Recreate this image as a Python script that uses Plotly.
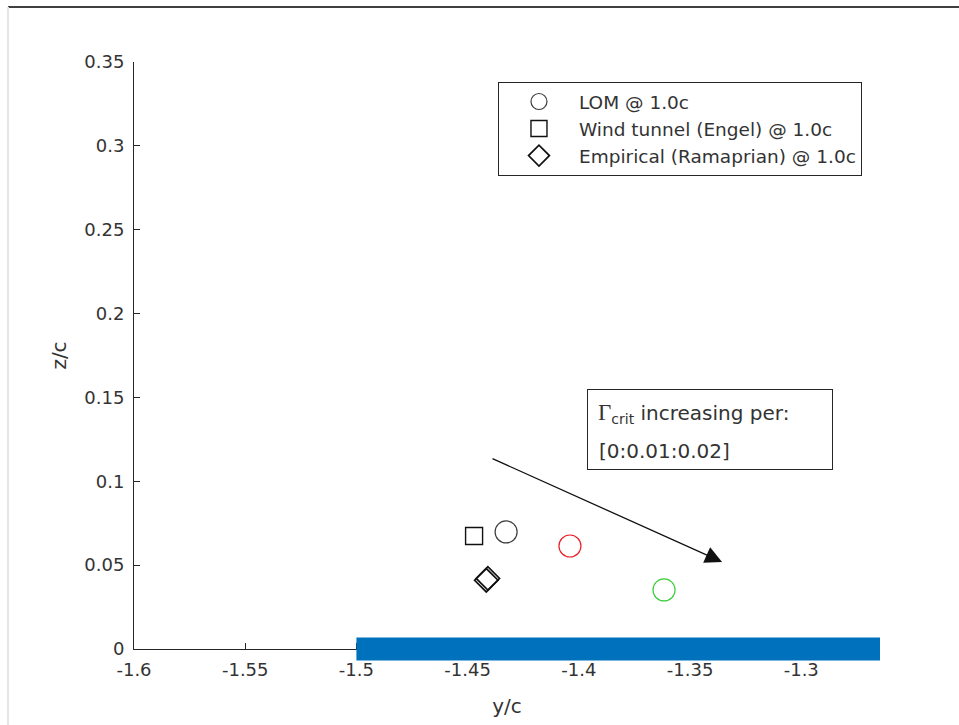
import plotly.graph_objects as go

# Vortex core positions (spanwise y/c, vertical z/c)
lom_y = [-1.4327]
lom_z = [0.0698]
engel_y = [-1.4471]
engel_z = [0.0674]
ramaprian_y = [-1.4416, -1.4409]
ramaprian_z = [0.0410, 0.0421]
lom_gcrit1_y = [-1.4040]
lom_gcrit1_z = [0.0614]
lom_gcrit2_y = [-1.3617]
lom_gcrit2_z = [0.0352]

# Wing trailing edge (spanwise extent at z = 0)
wing_y = [-1.5, -1.2646]

# Arrow showing the trend with increasing Gamma_crit
trend_y = [-1.4395, -1.3356]
trend_z = [0.1139, 0.0519]

x_ticks = [-1.6, -1.55, -1.5, -1.45, -1.4, -1.35, -1.3]
x_tick_text = ["-1.6", "-1.55", "-1.5", "-1.45", "-1.4", "-1.35", "-1.3"]
z_ticks = [0, 0.05, 0.1, 0.15, 0.2, 0.25, 0.3, 0.35]
z_tick_text = ["0", "0.05", "0.1", "0.15", "0.2", "0.25", "0.3", "0.35"]

FONT = "DejaVu Sans"
AX = "#262626"
TXT = "#333333"

fig = go.Figure()

fig.add_trace(go.Scatter(
    x=lom_y, y=lom_z, mode="markers", name="LOM @ 1.0c",
    marker=dict(symbol="circle-open", size=22, color="#3c3c3c",
                line=dict(width=1.2, color="#3c3c3c")),
))
fig.add_trace(go.Scatter(
    x=engel_y, y=engel_z, mode="markers", name="Wind tunnel (Engel) @ 1.0c",
    marker=dict(symbol="square-open", size=17, color="#111111",
                line=dict(width=1.4, color="#111111")),
))
fig.add_trace(go.Scatter(
    x=ramaprian_y, y=ramaprian_z, mode="markers",
    name="Empirical (Ramaprian) @ 1.0c",
    marker=dict(symbol="diamond-open", size=18, color="#111111",
                line=dict(width=1.7, color="#111111")),
))
fig.add_trace(go.Scatter(
    x=lom_gcrit1_y, y=lom_gcrit1_z, mode="markers", showlegend=False,
    marker=dict(symbol="circle-open", size=22, color="#e8202a",
                line=dict(width=1.2, color="#e8202a")),
))
fig.add_trace(go.Scatter(
    x=lom_gcrit2_y, y=lom_gcrit2_z, mode="markers", showlegend=False,
    marker=dict(symbol="circle-open", size=22, color="#3ccc3c",
                line=dict(width=1.2, color="#3ccc3c")),
))

# Thick wing bar drawn on top of the axis line
fig.add_shape(
    type="rect", xref="x", yref="paper",
    x0=wing_y[0], x1=wing_y[1],
    ysizemode="pixel", yanchor=0, y0=-11.5, y1=11.5,
    fillcolor="#0072BD", line=dict(width=0), layer="above",
)

# Figure frame edges
fig.add_shape(type="line", xref="paper", yref="paper",
              x0=-0.1689, x1=1.11, y0=1.0937, y1=1.0937,
              line=dict(color="#404040", width=2), layer="above")
fig.add_shape(type="line", xref="paper", yref="paper",
              x0=-0.1689, x1=-0.1689, y0=1.0937, y1=-0.14,
              line=dict(color="#e6e6e6", width=2), layer="above")

fig.add_annotation(
    x=trend_y[1], y=trend_z[1], ax=trend_y[0], ay=trend_z[0],
    xref="x", yref="y", axref="x", ayref="y",
    text="", showarrow=True, arrowhead=2, arrowsize=2.6,
    arrowwidth=1.3, arrowcolor="#111111",
)

# Text box: bordered frame with the first line, second line below it
fig.add_annotation(
    xref="paper", yref="paper", x=0.6072, y=0.4429,
    xanchor="left", yanchor="top", align="left", valign="top",
    width=224, height=59,
    text="<span style=\"font-family:'Liberation Serif';font-size:23px\">Γ</span>"
         "<sub>crit</sub> increasing per:",
    showarrow=False, font=dict(family=FONT, size=20, color=TXT),
    bordercolor=AX, borderwidth=1, borderpad=10, bgcolor="white",
)
fig.add_annotation(
    xref="paper", yref="paper", x=0.6206, y=0.3373,
    xanchor="left", yanchor="middle", align="left",
    text="[0:0.01:0.02]", showarrow=False,
    font=dict(family=FONT, size=20, color=TXT),
)

fig.update_layout(
    width=959, height=725,
    margin=dict(l=134, r=79, t=62, b=76),
    paper_bgcolor="white", plot_bgcolor="white",
    font=dict(family=FONT, size=18, color=TXT),
    showlegend=True,
    legend=dict(
        x=0.4879, y=0.966, xanchor="left", yanchor="top",
        bgcolor="white", bordercolor=AX, borderwidth=1,
        font=dict(family=FONT, size=18.5, color=TXT),
        itemwidth=70,
    ),
    xaxis=dict(
        range=[-1.6, wing_y[1]], tickmode="array",
        tickvals=x_ticks, ticktext=x_tick_text,
        ticks="inside", ticklen=6, tickcolor=AX, tickwidth=1,
        showline=True, linecolor=AX, linewidth=1,
        showgrid=False, zeroline=False, ticklabelstandoff=4,
        title=dict(text="y/c", font=dict(size=20, color=TXT), standoff=20),
        tickfont=dict(size=18, color=TXT),
    ),
    yaxis=dict(
        range=[0, 0.35], tickmode="array",
        tickvals=z_ticks, ticktext=z_tick_text,
        ticks="inside", ticklen=6, tickcolor=AX, tickwidth=1,
        showline=True, linecolor=AX, linewidth=1,
        showgrid=False, zeroline=False, ticklabelstandoff=5,
        title=dict(text="z/c", font=dict(size=20, color=TXT), standoff=12),
        tickfont=dict(size=18, color=TXT),
    ),
)

fig.write_html("out.html")
